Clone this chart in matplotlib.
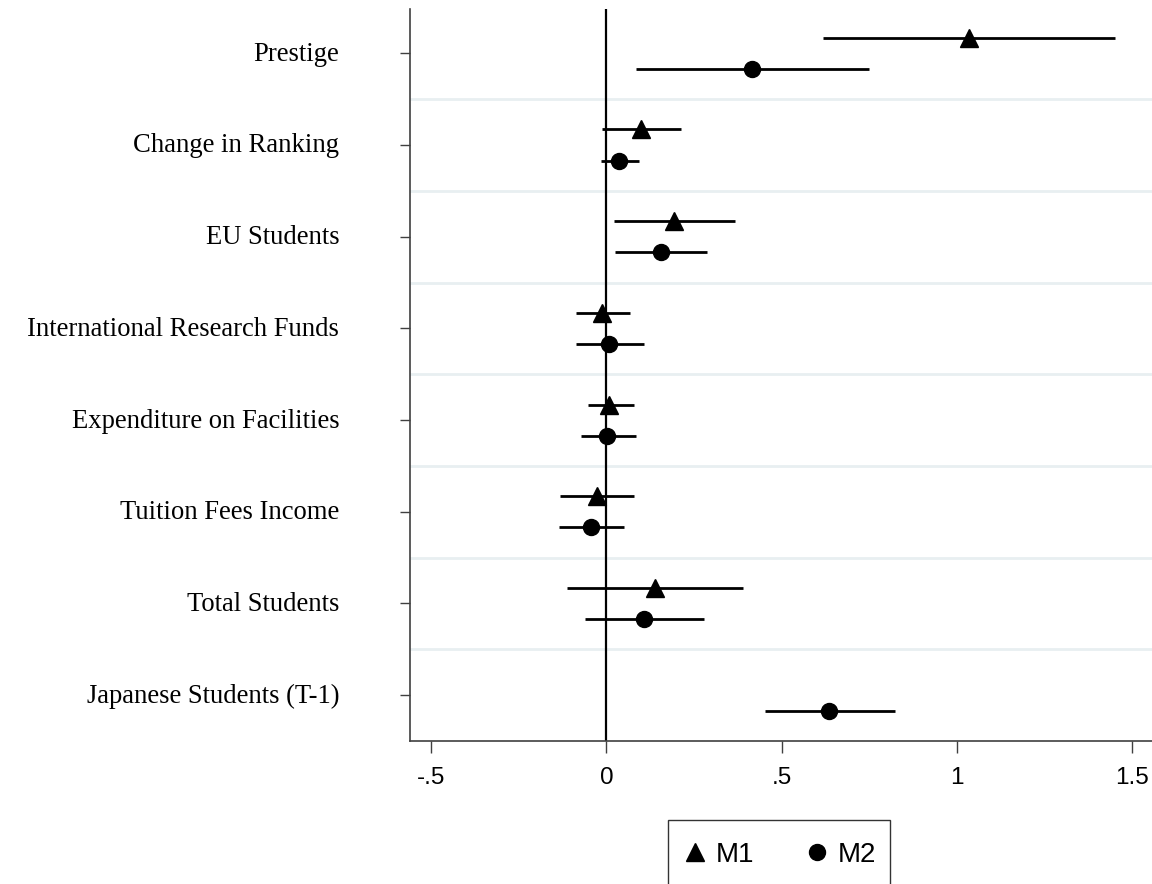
import matplotlib
matplotlib.use("Agg")
import matplotlib.pyplot as plt
from matplotlib.lines import Line2D
from matplotlib.legend_handler import HandlerLine2D
from matplotlib.transforms import ScaledTranslation
import numpy as np

categories = ["Prestige", "Change in Ranking", "EU Students",
              "International Research Funds", "Expenditure on Facilities",
              "Tuition Fees Income", "Total Students", "Japanese Students (T-1)"]

# Model M1 (no estimate for Japanese Students (T-1))
m1_coef = [1.034, 0.100, 0.194, -0.012, 0.008, -0.026, 0.138, np.nan]
m1_lo   = [0.619, -0.013, 0.022, -0.087, -0.054, -0.133, -0.114, np.nan]
m1_hi   = [1.452, 0.213, 0.368, 0.066, 0.078, 0.080, 0.390, np.nan]

# Model M2
m2_coef = [0.415, 0.036, 0.156, 0.008, 0.002, -0.045, 0.107, 0.637]
m2_lo   = [0.084, -0.016, 0.024, -0.087, -0.074, -0.136, -0.060, 0.452]
m2_hi   = [0.749, 0.092, 0.287, 0.108, 0.083, 0.050, 0.278, 0.823]

xticks = [-0.5, 0, 0.5, 1, 1.5]
xticklabels = ["-.5", "0", ".5", "1", "1.5"]
model_names = ["M1", "M2"]

W, H, DPI = 1152, 884, 100
fig = plt.figure(figsize=(W / DPI, H / DPI), dpi=DPI)
ax = fig.add_axes([410 / W, (H - 741) / H, (W - 410) / W, (741 - 9) / H])

n = len(categories)
pos = np.arange(n)
offset = 0.17

# grid lines between categories
for g in np.arange(0.5, n - 0.5, 1.0):
    ax.axhline(g, color="#E8EFF1", lw=2.0, zorder=0)

# reference line at zero
ax.axvline(0, color="black", lw=1.6, zorder=1)

series = [
    (m1_coef, m1_lo, m1_hi, -offset, "^", 13),
    (m2_coef, m2_lo, m2_hi, +offset, "o", 11.5),
]
for coef, lo, hi, off, mk, ms in series:
    coef = np.asarray(coef, float)
    lo = np.asarray(lo, float)
    hi = np.asarray(hi, float)
    y = pos + off
    ok = ~np.isnan(coef)
    ax.hlines(y[ok], lo[ok], hi[ok], color="black", lw=2.0, zorder=2)
    ax.plot(coef[ok], y[ok], linestyle="none", marker=mk, ms=ms,
            color="black", zorder=3)

ax.set_xlim(-0.561, 1.558)
ax.set_ylim(n - 0.5, -0.484)

ax.set_xticks(xticks)
ax.set_xticklabels(xticklabels, fontfamily="Liberation Sans", fontsize=17.5)
ax.set_yticks(pos)
ax.set_yticklabels(categories, fontfamily="Liberation Serif", fontsize=19.2)

ax.tick_params(axis="x", length=8.5, width=1.0, color="#404040", pad=10)
ax.tick_params(axis="y", length=7, width=1.0, color="#404040", pad=44)
for lbl in ax.get_yticklabels():
    lbl.set_transform(lbl.get_transform() +
                      ScaledTranslation(0, 1.5 / 72, fig.dpi_scale_trans))

for s in ["top", "right"]:
    ax.spines[s].set_visible(False)
for s in ["left", "bottom"]:
    ax.spines[s].set_color("#404040")
    ax.spines[s].set_linewidth(1.2)


class ShiftedHandler(HandlerLine2D):
    """Marker-only legend key moved down to sit level with the label text."""
    def __init__(self, dy, **kw):
        super().__init__(**kw)
        self.dy = dy

    def create_artists(self, legend, orig_handle, xdescent, ydescent,
                       width, height, fontsize, trans):
        arts = super().create_artists(legend, orig_handle, xdescent, ydescent,
                                      width, height, fontsize, trans)
        for a in arts:
            a.set_ydata(np.asarray(a.get_ydata(), float) - self.dy)
        return arts


handles = [
    Line2D([], [], linestyle="none", marker="^", ms=13, color="black"),
    Line2D([], [], linestyle="none", marker="o", ms=11.5, color="black"),
]
leg = fig.legend(handles, model_names, loc="upper center",
                 bbox_to_anchor=(779 / W, (H - 820) / H),
                 ncol=2, frameon=True, fancybox=False,
                 edgecolor="black",
                 prop={"family": "Liberation Sans", "size": 20},
                 handlelength=0.9, handleheight=1.75,
                 handletextpad=0.3, columnspacing=1.8,
                 borderpad=0.5, borderaxespad=0,
                 handler_map={Line2D: ShiftedHandler(dy=3.0)})
leg.get_frame().set_linewidth(1.0)

fig.savefig("out.png", dpi=DPI, facecolor="white")
